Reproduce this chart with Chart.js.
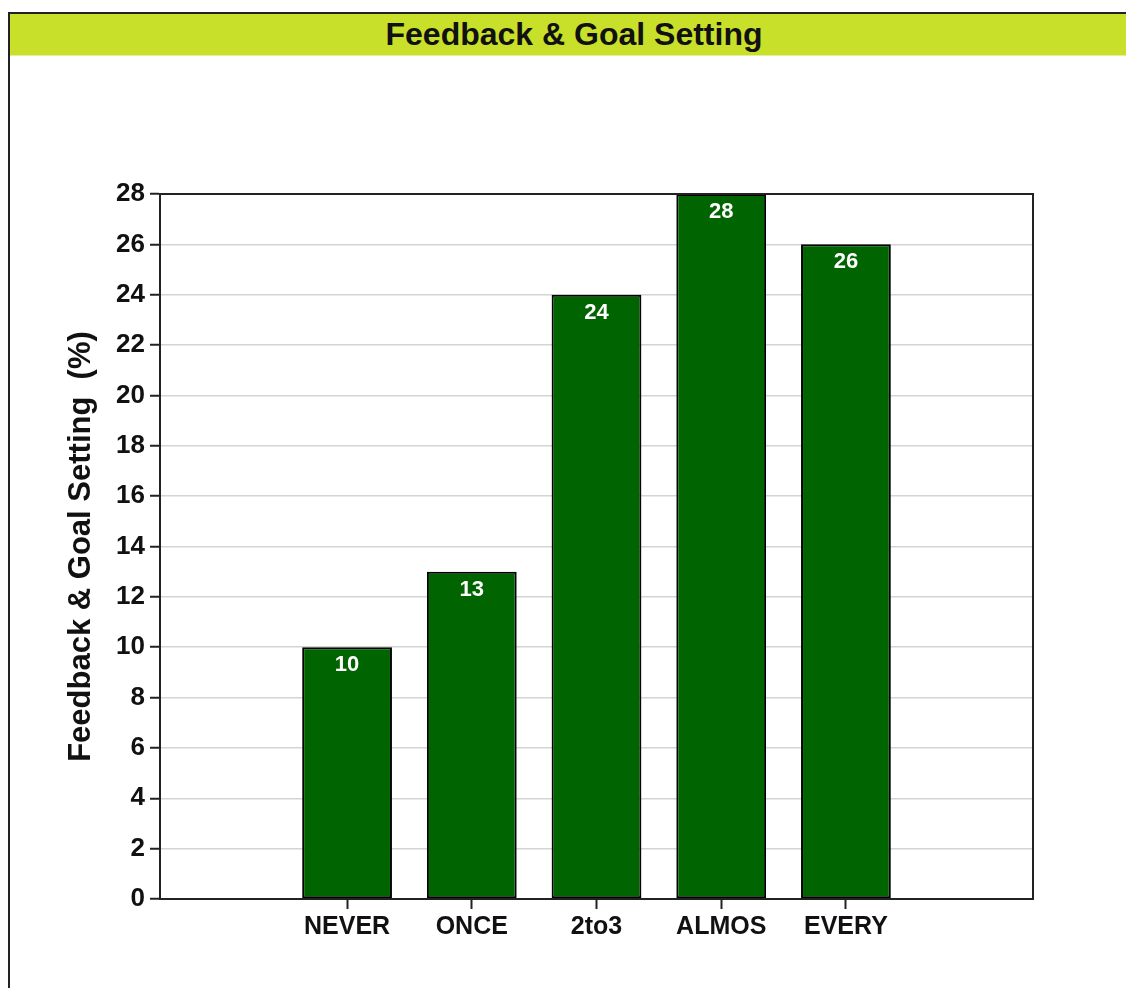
<!DOCTYPE html>
<html>
<head>
<meta charset="utf-8">
<script src="https://cdn.jsdelivr.net/npm/chart.js@4/dist/chart.umd.min.js"></script>
<style>
  html, body { margin: 0; padding: 0; background: #fff; overflow: hidden; width: 1126px; height: 988px; }
  #frame { position: absolute; left: 8px; top: 12px; width: 1200px; height: 1000px; border-left: 2px solid #222; border-top: 2px solid #222; box-sizing: border-box; }
  #titlebar { position: absolute; left: 10px; top: 14px; width: 1128px; height: 41px; background: #c8e02a; border-bottom: 1px solid #e4ef9a;
    font-family: "Liberation Sans", Arial, sans-serif; font-weight: bold; font-size: 32px; line-height: 41px; text-align: center; color: #111; }
  #wrap { position: absolute; left: 0; top: 56px; width: 1126px; height: 932px; }
</style>
</head>
<body>
<div id="frame"></div>
<div id="titlebar">Feedback &amp; Goal Setting</div>
<div id="wrap"><canvas id="c"></canvas></div>
<script>
const categories = ['NEVER', 'ONCE', '2to3', 'ALMOS', 'EVERY'];
const values = [10, 13, 24, 28, 26];
const yTicks = [0, 2, 4, 6, 8, 10, 12, 14, 16, 18, 20, 22, 24, 26, 28];
const yTitle = 'Feedback & Goal Setting  (%)';

const labels = [''].concat(categories, ['']);
const data = [null].concat(values, [null]);

const FONT = '"Liberation Sans", Arial, sans-serif';

const frameBox = {
  id: 'frameBox',
  afterDraw(chart) {
    const a = chart.chartArea, ctx = chart.ctx;
    ctx.save();
    ctx.strokeStyle = '#222';
    ctx.lineWidth = 2;
    ctx.strokeRect(a.left, a.top, a.right - a.left, a.bottom - a.top);
    ctx.restore();
  }
};

const barValues = {
  id: 'barValues',
  afterDatasetsDraw(chart) {
    const ctx = chart.ctx;
    const meta = chart.getDatasetMeta(0);
    ctx.save();
    ctx.fillStyle = '#ffffff';
    ctx.font = 'bold 22px ' + FONT;
    ctx.textAlign = 'center';
    ctx.textBaseline = 'middle';
    meta.data.forEach((bar, i) => {
      const v = chart.data.datasets[0].data[i];
      if (v === null || v === undefined) return;
      ctx.fillText(String(v), bar.x, bar.y + 18);
    });
    ctx.restore();
  }
};

new Chart(document.getElementById('c'), {
  type: 'bar',
  data: {
    labels: labels,
    datasets: [{
      data: data,
      backgroundColor: '#006400',
      borderColor: '#000',
      borderWidth: 2,
      borderSkipped: false,
      categoryPercentage: 1.0,
      barPercentage: 0.72
    }]
  },
  options: {
    responsive: true,
    maintainAspectRatio: false,
    animation: false,
    layout: { padding: { left: 0, top: 138, right: 93, bottom: 0 } },
    plugins: { legend: { display: false }, tooltip: { enabled: false }, title: { display: false } },
    scales: {
      x: {
        type: 'category',
        offset: true,
        grid: {
          offset: false,
          drawOnChartArea: false,
          drawTicks: true,
          tickLength: 10,
          tickWidth: 2,
          tickColor: (ctx) => (ctx.tick && labels[ctx.tick.value] ? '#222' : 'rgba(0,0,0,0)')
        },
        border: { display: true, color: '#222', width: 2 },
        ticks: { color: '#111', font: { family: FONT, weight: 'bold', size: 25 }, padding: 3, maxRotation: 0, autoSkip: false },
        afterFit: (s) => { s.height = 89; }
      },
      y: {
        min: 0,
        max: 28,
        afterBuildTicks: (s) => { s.ticks = yTicks.map(v => ({ value: v })); },
        grid: { color: '#d4d4d4', lineWidth: 1.5, tickLength: 10, tickWidth: 2, tickColor: '#222' },
        border: { display: true, color: '#222', width: 2 },
        ticks: { color: '#111', font: { family: FONT, weight: 'bold', size: 26 }, padding: 5 },
        title: { display: true, text: yTitle, color: '#111', font: { family: FONT, weight: 'bold', size: 31 }, padding: { top: 63, bottom: 0 } },
        afterFit: (s) => { s.width = 160; }
      }
    }
  },
  plugins: [frameBox, barValues]
});
</script>
</body>
</html>
